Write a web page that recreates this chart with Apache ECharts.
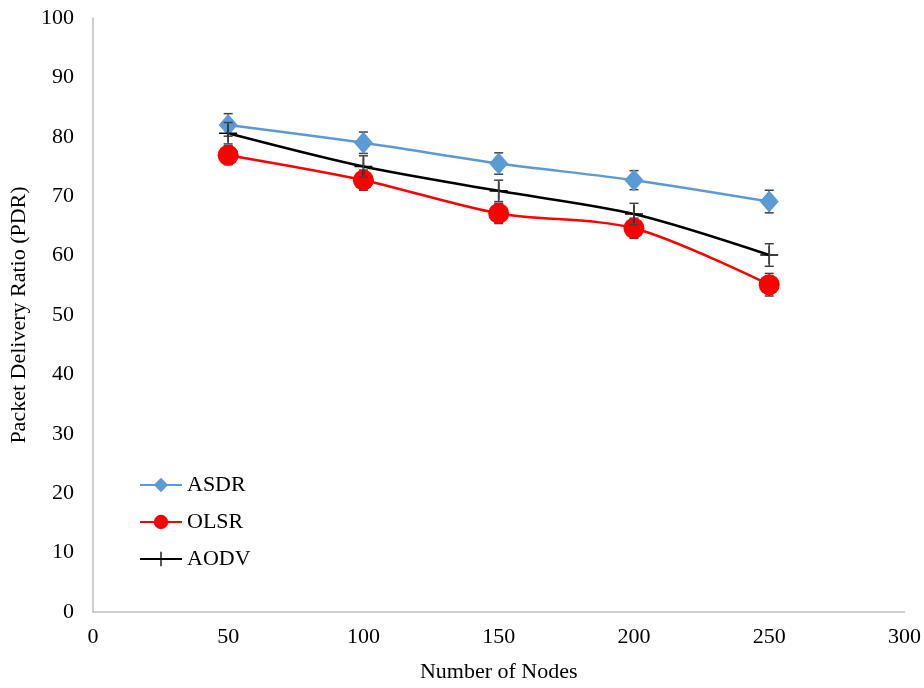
<!DOCTYPE html>
<html>
<head>
<meta charset="utf-8">
<script src="https://cdn.jsdelivr.net/npm/echarts@6/dist/echarts.min.js"></script>
<style>
html,body{margin:0;padding:0;background:#fff;}
#chart{width:924px;height:688px;}
</style>
</head>
<body>
<div id="chart"></div>
<script>
// Packet delivery ratio versus network size for three routing protocols
const nodes = [50, 100, 150, 200, 250];
const asdr = [82.0, 79.0, 75.5, 72.7, 69.1];
const olsr = [76.9, 72.7, 67.1, 64.6, 55.1];
const aodv = [80.6, 75.0, 70.9, 67.0, 60.1];
const asdrErr = [1.9, 1.8, 1.8, 1.6, 1.9];
const olsrErr = [1.6, 1.7, 1.7, 1.7, 1.9];
const aodvErr = [1.8, 1.8, 1.8, 1.8, 1.9];
const xTicks = [0, 50, 100, 150, 200, 250, 300];
const yTicks = [0, 10, 20, 30, 40, 50, 60, 70, 80, 90, 100];

const FONT = '"Liberation Serif", "Times New Roman", serif';
const plusPath = 'path://M-0.09,-1 L0.09,-1 L0.09,-0.09 L1,-0.09 L1,0.09 L0.09,0.09 L0.09,1 L-0.09,1 L-0.09,0.09 L-1,0.09 L-1,-0.09 L-0.09,-0.09 Z';

function pairs(vals) { return nodes.map((n, i) => [n, vals[i]]); }
function errData(vals, errs) { return nodes.map((n, i) => [n, vals[i] - errs[i], vals[i] + errs[i]]); }

function errorBars(vals, errs, z) {
  return {
    type: 'custom',
    z: z,
    silent: true,
    data: errData(vals, errs),
    renderItem: function (params, api) {
      const lo = api.coord([api.value(0), api.value(1)]);
      const hi = api.coord([api.value(0), api.value(2)]);
      const half = 4.5;
      const style = { stroke: '#404040', lineWidth: 1.5 };
      return {
        type: 'group',
        children: [
          { type: 'line', shape: { x1: lo[0], y1: lo[1], x2: hi[0], y2: hi[1] }, style: style },
          { type: 'line', shape: { x1: lo[0] - half, y1: lo[1], x2: lo[0] + half, y2: lo[1] }, style: style },
          { type: 'line', shape: { x1: hi[0] - half, y1: hi[1], x2: hi[0] + half, y2: hi[1] }, style: style }
        ]
      };
    }
  };
}

const chart = echarts.init(document.getElementById('chart'));
chart.setOption({
  animation: false,
  backgroundColor: '#fff',
  grid: { left: 92, right: 19, top: 18, bottom: 74 },
  legend: {
    orient: 'vertical',
    left: 134,
    top: 469,
    itemGap: 15,
    itemWidth: 42,
    itemHeight: 18,
    textStyle: { fontFamily: FONT, fontSize: 22, color: '#000' },
    data: ['ASDR', 'OLSR', 'AODV']
  },
  xAxis: {
    type: 'value',
    min: 0, max: 300, interval: 50,
    name: 'Number of Nodes',
    nameLocation: 'middle',
    nameGap: 49,
    nameTextStyle: { fontFamily: FONT, fontSize: 22, color: '#000' },
    axisLine: { show: true, lineStyle: { color: '#bfbfbf', width: 1.5 } },
    axisTick: { show: false },
    splitLine: { show: false },
    axisLabel: {
      fontFamily: FONT, fontSize: 22, color: '#000', margin: 14,
      formatter: v => xTicks.includes(v) ? String(v) : ''
    }
  },
  yAxis: {
    type: 'value',
    min: 0, max: 100, interval: 10,
    name: 'Packet Delivery Ratio (PDR)',
    nameLocation: 'middle',
    nameGap: 62,
    nameTextStyle: { fontFamily: FONT, fontSize: 22, color: '#000' },
    axisLine: { show: true, lineStyle: { color: '#bfbfbf', width: 1.5 } },
    axisTick: { show: false },
    splitLine: { show: false },
    axisLabel: {
      fontFamily: FONT, fontSize: 22, color: '#000', margin: 19,
      formatter: v => yTicks.includes(v) ? String(v) : ''
    }
  },
  series: [
    errorBars(asdr, asdrErr, 1),
    errorBars(olsr, olsrErr, 1),
    errorBars(aodv, aodvErr, 4),
    {
      name: 'ASDR', type: 'line', z: 3,
      data: pairs(asdr),
      smooth: 0.3,
      symbol: 'diamond', symbolSize: [19, 22],
      lineStyle: { color: '#5B9BD5', width: 2.5 },
      itemStyle: { color: '#5B9BD5' }
    },
    {
      name: 'OLSR', type: 'line', z: 2,
      data: pairs(olsr),
      smooth: 0.3,
      symbol: 'circle', symbolSize: 21,
      lineStyle: { color: '#FF0000', width: 2.5 },
      itemStyle: { color: '#FF0000' }
    },
    {
      name: 'AODV', type: 'line', z: 3,
      data: pairs(aodv),
      smooth: 0.3,
      symbol: plusPath, symbolSize: 18,
      lineStyle: { color: '#000', width: 2.5 },
      itemStyle: { color: '#000' }
    }
  ]
});
</script>
</body>
</html>
